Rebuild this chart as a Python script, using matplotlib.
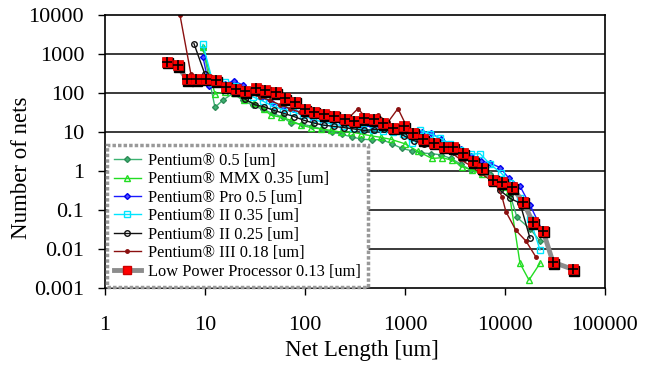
import numpy as np
import matplotlib
matplotlib.use("Agg")
import matplotlib.pyplot as plt
import matplotlib.transforms as mtransforms

plt.rcParams['font.family'] = ['Liberation Serif', 'DejaVu Serif']

# data: log10(net length) and number of nets
p05_lx = [0.98, 1.10, 1.18, 1.28, 1.38, 1.48, 1.58, 1.68, 1.78, 1.86, 1.97, 2.07, 2.17, 2.27, 2.37, 2.47,
          2.56, 2.67, 2.77, 2.87, 2.97, 3.07, 3.16, 3.26, 3.36, 3.46, 3.56, 3.66, 3.76, 3.85, 3.95, 4.05,
          4.12, 4.25, 4.35]
p05_y = [1400, 43, 66, 98, 65, 48, 38, 30, 24, 17, 16, 14, 12, 10, 8.7, 7.5,
         6.6, 6.3, 6.4, 5.0, 3.8, 3.3, 2.9, 2.8, 2.6, 2.1, 1.5, 1.05, 0.9, 0.83, 0.5, 0.25,
         0.065, 0.033, 0.016]

mmx_lx = [0.98, 1.10, 1.20, 1.29, 1.39, 1.49, 1.59, 1.66, 1.76, 1.86, 1.96, 2.06, 2.16, 2.26, 2.36, 2.46,
          2.56, 2.66, 2.76, 2.86, 3.00, 3.13, 3.27, 3.37, 3.47, 3.57, 3.67, 3.77, 3.87, 3.97, 4.04,
          4.15, 4.24, 4.35]
mmx_y = [1500, 94, 108, 103, 66, 55, 38, 27, 24, 20, 15, 13, 12, 11, 10, 10,
         9, 8, 7.3, 6.5, 5.0, 3.2, 2.1, 2.2, 1.9, 1.3, 1.05, 0.85, 0.6, 0.4, 0.3,
         0.0043, 0.0016, 0.0043]

pro_lx = [0.98, 1.04, 1.10, 1.20, 1.29, 1.38, 1.46, 1.57, 1.67, 1.78, 1.88, 2.07, 2.17, 2.27, 2.37, 2.47,
          2.57, 2.67, 2.77, 2.87, 2.97, 3.07, 3.17, 3.26, 3.36, 3.46, 3.56, 3.66, 3.76, 3.85, 3.95,
          4.04, 4.15, 4.25, 4.37]
pro_y = [850, 150, 190, 175, 204, 160, 115, 80, 54, 44.6, 38, 25, 22, 19, 17, 15,
         14, 14, 13, 12, 11, 10, 10, 9.5, 6.5, 5, 3.7, 2.5, 1.8, 1.6, 1.23,
         0.65, 0.41, 0.135, 0.031]

p2a_lx = [0.98, 1.08, 1.20, 1.30, 1.38, 1.48, 1.58, 1.68, 1.78, 1.88, 1.98, 2.08, 2.18, 2.28, 2.38, 2.48,
          2.58, 2.68, 2.78, 2.88, 2.98, 3.07, 3.15, 3.25, 3.35, 3.45, 3.55, 3.66, 3.75, 3.85, 3.96,
          4.05, 4.15, 4.25, 4.35]
p2a_y = [1770, 180, 190, 150, 110, 80, 62, 46, 38, 33, 27, 21, 18, 16, 14.5, 13,
         12, 11, 10.5, 10, 9, 5.3, 11, 9, 7, 5, 3.5, 2.7, 2.8, 1.5, 0.9,
         0.5, 0.2, 0.06, 0.0095]

p2b_lx = [0.89, 1.00, 1.10, 1.20, 1.30, 1.40, 1.50, 1.59, 1.69, 1.79, 1.89, 1.99, 2.09, 2.19, 2.29, 2.39,
          2.49, 2.59, 2.69, 2.79, 2.89, 2.99, 3.09, 3.19, 3.29, 3.39, 3.49, 3.59, 3.69, 3.79, 3.89,
          3.95, 4.05, 4.15, 4.25]
p2b_y = [1850, 300, 170, 150, 110, 70, 50, 44.6, 36, 30, 25, 20, 17, 15, 14, 13,
         12, 11, 11.5, 12, 11, 8, 6, 5, 4.5, 3.7, 3, 2.2, 1.6, 1.1, 0.6,
         0.32, 0.2, 0.15, 0.019]

p3_lx = [0.75, 0.86, 0.95, 1.05, 1.15, 1.25, 1.35, 1.45, 1.55, 1.65, 1.75, 1.85, 1.95, 2.05, 2.15, 2.25,
         2.35, 2.43, 2.53, 2.63, 2.73, 2.83, 2.93, 3.05, 3.15, 3.25, 3.35, 3.45, 3.55, 3.65, 3.75,
         3.85, 3.90, 3.97, 4.01, 4.11, 4.21, 4.31]
p3_y = [10000, 300, 200, 200, 170, 130, 110, 95, 80, 65, 50, 40, 32, 28, 25, 24,
        22, 22, 40, 20, 27, 18, 40, 9.3, 8, 5, 4, 3.2, 2, 1.4, 0.9,
        0.6, 0.5, 0.22, 0.09, 0.03, 0.016, 0.0062]

lp_lx = [0.617, 0.727, 0.817, 0.908, 1.01, 1.11, 1.21, 1.31, 1.40, 1.51, 1.60, 1.71, 1.80, 1.90, 2.00,
         2.09, 2.19, 2.29, 2.40, 2.49, 2.59, 2.69, 2.78, 2.88, 2.99, 3.08, 3.18, 3.29, 3.39, 3.48,
         3.58, 3.68, 3.77, 3.88, 3.97, 4.07, 4.18, 4.28, 4.38, 4.48, 4.68]
lp_y = [635, 513, 224, 224, 230, 215, 145, 124, 112, 132, 117, 106, 73, 59, 38,
        33, 29, 26, 22, 19.5, 22.4, 21.2, 16.7, 12.9, 14.2, 9.6, 6.5, 5.3, 4.2, 4.1,
        2.84, 1.8, 1.22, 0.59, 0.52, 0.38, 0.164, 0.048, 0.0295, 0.0046, 0.003]

fig = plt.figure(figsize=(6.46, 3.68), dpi=100)
ax = fig.add_axes([0.1625, 0.2174, 0.774, 0.7416])
ax.set_xscale('log')
ax.set_yscale('log')

def xs(lx):
    return 10 ** np.array(lx)

ax.plot(xs(p05_lx), p05_y, color='#3CB371', lw=1, marker='D', ms=3, mfc='#3CB371', mec='#2E8B57',
        label='Pentium® 0.5 [um]')
ax.plot(xs(mmx_lx), mmx_y, color='#22DD22', lw=1, marker='^', ms=4, mfc='none', mec='#22DD22',
        label='Pentium® MMX 0.35 [um]')
ax.plot(xs(pro_lx), pro_y, color='#1a1aff', lw=1, marker='D', ms=3, mfc='#4f4fff', mec='#0000ee',
        label='Pentium® Pro 0.5 [um]')
ax.plot(xs(p2a_lx), p2a_y, color='#00e5ff', lw=1, marker='s', ms=4, mfc='none', mec='#00e5ff',
        label='Pentium® II 0.35 [um]')
ax.plot(xs(p2b_lx), p2b_y, color='#111111', lw=1, marker='o', ms=4, mfc='none', mec='#111111',
        label='Pentium® II 0.25 [um]')
ax.plot(xs(p3_lx), p3_y, color='#8B1010', lw=1, marker='o', ms=2.5, mfc='#8B1010', mec='#8B1010',
        label='Pentium® III 0.18 [um]')

# low power processor: thick gray line, red squares with black shadow and plus
shadow = mtransforms.offset_copy(ax.transData, fig=fig, x=1.5, y=-1.5, units='dots')
ax.plot(xs(lp_lx), lp_y, color='#8c8c8c', lw=3.5, zorder=4)
ax.plot(xs(lp_lx), lp_y, ls='none', marker='s', ms=7, mfc='black', mec='black', transform=shadow, zorder=5)
ax.plot(xs(lp_lx), lp_y, ls='none', marker='s', ms=7, mfc='#ff0000', mec='#cc0000', mew=0.5, zorder=6)
ax.plot(xs(lp_lx), lp_y, ls='none', marker='+', ms=7, mec='black', mew=1.2, zorder=7)
lp_handle, = ax.plot([], [], color='#8c8c8c', lw=3.5, marker='s', ms=6, mfc='#ff0000', mec='#cc0000')

ax.set_xlim(1, 100000)
ax.set_ylim(0.001, 10000)
ax.set_xticks([1, 10, 100, 1000, 10000, 100000])
ax.set_xticklabels(['1', '10', '100', '1000', '10000', '100000'])
ax.set_yticks([0.001, 0.01, 0.1, 1, 10, 100, 1000, 10000])
ax.set_yticklabels(['0.001', '0.01', '0.1', '1', '10', '100', '1000', '10000'])
ax.minorticks_off()
ax.tick_params(labelsize=16, length=5, width=1, direction='out')
ax.tick_params(axis='x', pad=15)
ax.tick_params(axis='y', pad=10)
for yv in [0.01, 0.1, 1, 10, 100, 1000]:
    ax.axhline(yv, color='#3a3a3a', lw=1.4, zorder=1)
for s in ax.spines.values():
    s.set_linewidth(1.2)
    s.set_color('black')

ax.set_xlabel('Net Length [um]', fontsize=16.5, labelpad=6)
ax.set_ylabel('Number of nets', fontsize=16.5)
ax.yaxis.set_label_coords(-0.145, 0.44)
ax.xaxis.set_label_coords(0.514, -0.19)

handles, labels = ax.get_legend_handles_labels()
handles.append(lp_handle)
labels.append('Low Power Processor 0.13 [um]')
leg = ax.legend(handles, labels, loc='lower left', bbox_to_anchor=(0.004, 0.004), fontsize=11.8,
                frameon=True, fancybox=False, framealpha=1, handlelength=1.6, handletextpad=0.45,
                labelspacing=0.15, borderpad=0.45, borderaxespad=0)
fr = leg.get_frame()
fr.set_edgecolor('#999999')
fr.set_linewidth(2.5)
fr.set_linestyle((0, (1, 0.6)))
leg.set_zorder(10)

fig.savefig('out.png', dpi=100)
